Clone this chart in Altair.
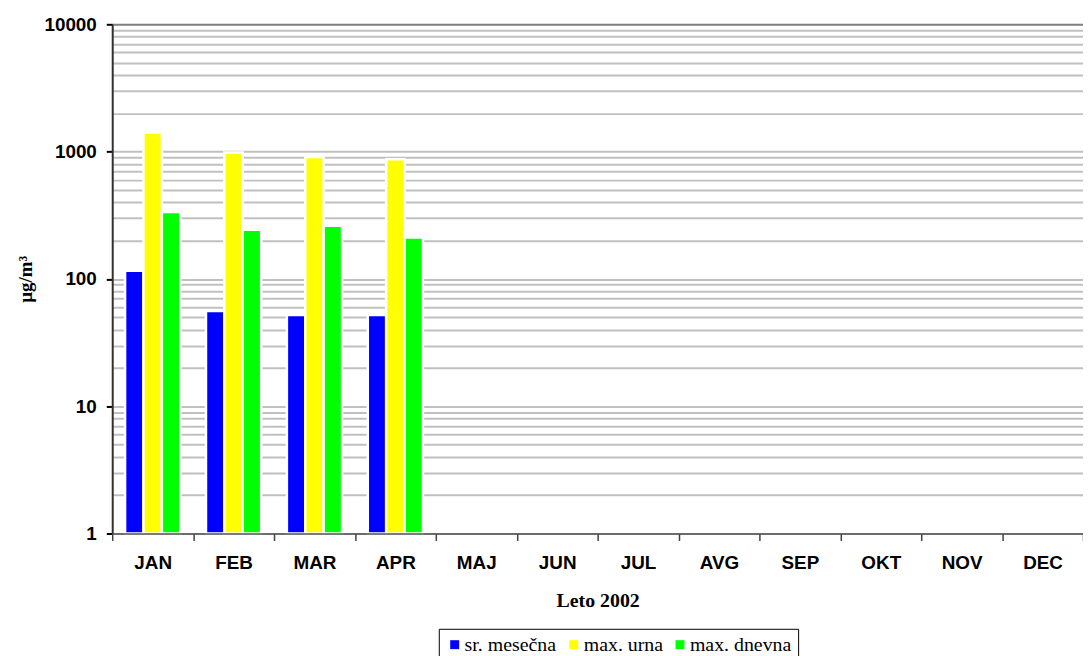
import altair as alt
import pandas as pd

months = ["JAN", "FEB", "MAR", "APR", "MAJ", "JUN", "JUL", "AVG", "SEP", "OKT", "NOV", "DEC"]
series = ["sr. mesečna", "max. urna", "max. dnevna"]
colors = ["#0000FF", "#FFFF00", "#00FF00"]

data_months = ["JAN", "FEB", "MAR", "APR"]
sr_mesecna = [116, 56, 52, 52]
max_urna = [1410, 985, 905, 870]
max_dnevna = [336, 243, 261, 211]

y_ticks = [1, 2, 3, 4, 5, 6, 7, 8, 9,
           10, 20, 30, 40, 50, 60, 70, 80, 90,
           100, 200, 300, 400, 500, 600, 700, 800, 900,
           1000, 2000, 3000, 4000, 5000, 6000, 7000, 8000, 9000,
           10000]

rows = []
for i, m in enumerate(data_months):
    rows.append({"month": m, "series": series[0], "value": sr_mesecna[i]})
    rows.append({"month": m, "series": series[1], "value": max_urna[i]})
    rows.append({"month": m, "series": series[2], "value": max_dnevna[i]})
df = pd.DataFrame(rows)

decade_test = "datum.value == 1 || datum.value == 10 || datum.value == 100 || datum.value == 1000 || datum.value == 10000"

chart = alt.Chart(df).mark_bar(stroke="white", strokeWidth=2.5).encode(
    x=alt.X("month:N", sort=months,
            scale=alt.Scale(domain=months, paddingInner=0, paddingOuter=0),
            axis=alt.Axis(title="Leto 2002", labelAngle=0, tickBand="extent",
                          labelFont="Liberation Sans", labelFontSize=19, labelFontWeight="bold",
                          labelColor="black", labelPadding=13,
                          tickSize=7, tickColor="#404040", tickWidth=1.5,
                          domainColor="#505050", domainWidth=1.5,
                          titleFont="Liberation Serif", titleFontSize=20, titleFontWeight="bold",
                          titleColor="black", titlePadding=19, zindex=1)),
    xOffset=alt.XOffset("series:N", sort=series,
                        scale=alt.Scale(domain=series, paddingInner=0, paddingOuter=0.7)),
    y=alt.Y("value:Q", stack=None,
            scale=alt.Scale(type="log", domain=[1, 10000], nice=False),
            axis=alt.Axis(title="µg/m³", values=y_ticks, format="d",
                          labelExpr="(" + decade_test + ") ? datum.label : ''",
                          labelFont="Liberation Sans", labelFontSize=19, labelFontWeight="bold",
                          labelColor="black", labelPadding=10,
                          tickSize=6, tickWidth=2,
                          tickColor={"condition": {"test": decade_test, "value": "black"}, "value": "transparent"},
                          grid=True, gridWidth=2,
                          gridColor={"condition": {"test": "datum.value == 10000", "value": "#808080"}, "value": "#c0c0c0"},
                          domainColor="#303030", domainWidth=2,
                          titleFont="Liberation Serif", titleFontSize=19, titleFontWeight="bold",
                          titleColor="black", titlePadding=8)),
    color=alt.Color("series:N", sort=series,
                    scale=alt.Scale(domain=series, range=colors),
                    legend=alt.Legend(title=None, orient="none", legendX=329, legendY=609,
                                      direction="horizontal", symbolType="square", symbolSize=81,
                                      symbolStrokeWidth=0, labelFont="Liberation Serif",
                                      labelFontSize=20, labelColor="black", labelOffset=0,
                                      columnPadding=7, padding=6, strokeColor="black",
                                      fillColor="white")),
).properties(
    width=978, height=513,
    autosize=alt.AutoSizeParams(type="none"),
    padding={"left": 105, "top": 14, "right": 0, "bottom": 121},
).configure_view(stroke=None).configure(background="white")

chart.save("out.html", embed_options={"renderer": "svg", "actions": False})
